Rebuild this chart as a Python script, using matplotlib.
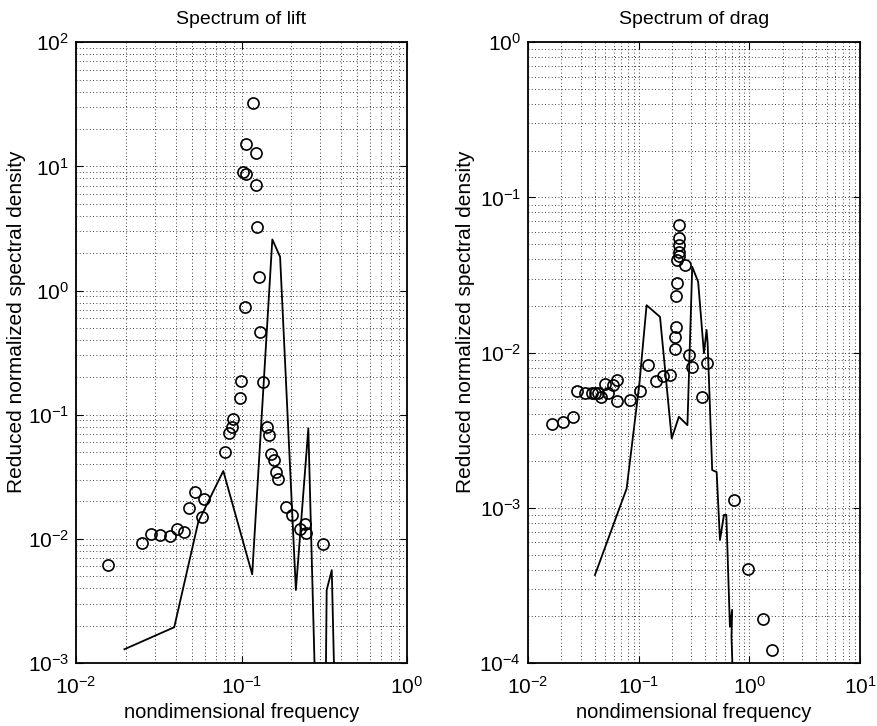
import matplotlib
matplotlib.use("Agg")
from matplotlib import pyplot as plt
from matplotlib.ticker import LogLocator, NullFormatter

plt.rcParams['font.family'] = ['Liberation Sans', 'DejaVu Sans']

# lift spectrum: measured points (circles)
lift_f = [0.0156, 0.0249, 0.0283, 0.0322, 0.0370, 0.0409, 0.0450, 0.0484, 0.0524,
          0.0574, 0.0594, 0.0794, 0.0844, 0.0873, 0.0893, 0.098, 0.0993, 0.1025,
          0.105, 0.107, 0.107, 0.117, 0.122, 0.1223, 0.1236, 0.1276, 0.1294, 0.134,
          0.143, 0.147, 0.150, 0.157, 0.162, 0.165, 0.185, 0.201, 0.226, 0.242,
          0.245, 0.309]
lift_s = [0.0062, 0.0092, 0.0109, 0.0107, 0.0105, 0.0119, 0.0113, 0.0178, 0.0238,
          0.0150, 0.0209, 0.0503, 0.0715, 0.080, 0.093, 0.137, 0.187, 9.03,
          0.74, 8.66, 15.1, 32.7, 12.9, 7.06, 3.26, 1.29, 0.46, 0.184,
          0.080, 0.0685, 0.0482, 0.0431, 0.0347, 0.0301, 0.0181, 0.0157, 0.0121, 0.0132,
          0.0111, 0.0091]

# lift spectrum: computed curve
lift_line_f = [0.0196, 0.0392, 0.0548, 0.0776, 0.116, 0.1535, 0.171, 0.213,
               0.2533, 0.285, 0.32, 0.327, 0.351, 0.372]
lift_line_s = [0.00129, 0.00194, 0.0137, 0.0352, 0.00518, 2.58, 1.87, 0.00387,
               0.0776, 0.0002, 0.0002, 0.00387, 0.0056, 0.0002]

# drag spectrum: measured points (circles)
drag_f = [0.0164, 0.0208, 0.0254, 0.0279, 0.0327, 0.0376, 0.0403, 0.0432, 0.0454,
          0.0497, 0.0531, 0.059, 0.0633, 0.0633, 0.0834, 0.1027, 0.122, 0.143,
          0.165, 0.192, 0.214, 0.214, 0.216, 0.217, 0.220, 0.224, 0.230, 0.233,
          0.233, 0.233, 0.233, 0.262, 0.286, 0.304, 0.371, 0.411, 0.726, 0.978,
          1.32, 1.62]
drag_s = [0.00346, 0.00358, 0.00383, 0.00568, 0.00546, 0.0055, 0.0055, 0.0055, 0.00515,
          0.00627, 0.0055, 0.00617, 0.00665, 0.0049, 0.00494, 0.00568, 0.0083, 0.00658,
          0.0071, 0.00716, 0.0126, 0.01054, 0.0147, 0.0231, 0.0283, 0.0398, 0.0420, 0.0446,
          0.0492, 0.0544, 0.0663, 0.0366, 0.00964, 0.0081, 0.00519, 0.0086, 0.00113, 0.000403,
          0.000192, 0.000121]

# drag spectrum: computed curve
drag_line_f = [0.0403, 0.0779, 0.1017, 0.118, 0.156, 0.199, 0.231, 0.276, 0.305,
               0.345, 0.389, 0.411, 0.42, 0.462, 0.507, 0.543, 0.59, 0.62, 0.668,
               0.7, 0.69, 0.726]
drag_line_s = [0.000369, 0.00133, 0.00636, 0.0202, 0.017, 0.0028, 0.00386, 0.00341, 0.0357,
               0.0286, 0.0099, 0.014, 0.0116, 0.00175, 0.0017, 0.00062, 0.0009, 0.0009, 0.000171,
               0.00022, 0.000148, 0.00005]


def style_axes(ax, label_x):
    ax.set_xscale('log')
    ax.set_yscale('log')
    ax.grid(True, which='both', linestyle=(0, (1, 3)), color='black', linewidth=0.6)
    ax.tick_params(which='both', direction='in', top=True, right=True, labelsize=15)
    ax.tick_params(which='major', length=5)
    ax.tick_params(which='minor', length=0)
    ax.tick_params(axis='x', which='major', pad=9)
    ax.tick_params(axis='y', which='major', pad=5)
    ax.xaxis.set_minor_locator(LogLocator(base=10, subs=range(2, 10)))
    ax.yaxis.set_minor_locator(LogLocator(base=10, subs=range(2, 10)))
    ax.xaxis.set_minor_formatter(NullFormatter())
    ax.yaxis.set_minor_formatter(NullFormatter())
    for sp in ax.spines.values():
        sp.set_linewidth(1.3)
    ax.set_xlabel('nondimensional frequency', fontsize=14.5)
    ax.set_ylabel('Reduced normalized spectral density', fontsize=15)
    ax.yaxis.set_label_coords(label_x, 0.55)


fig = plt.figure(figsize=(8.77, 7.26), dpi=100)
ax1 = fig.add_axes([0.0867, 0.0868, 0.3774, 0.855])
ax2 = fig.add_axes([0.602, 0.0868, 0.3786, 0.855])

ax1.plot(lift_line_f, lift_line_s, color='black', linewidth=1.3)
ax1.plot(lift_f, lift_s, 'o', markerfacecolor='none', markeredgecolor='black',
         markersize=8, markeredgewidth=1.2)
style_axes(ax1, -0.15)
ax1.set_xlim(1e-2, 1e0)
ax1.set_ylim(1e-3, 1e2)
ax1.set_title('Spectrum of lift', fontsize=14, pad=13)

ax2.plot(drag_line_f, drag_line_s, color='black', linewidth=1.3)
ax2.plot(drag_f, drag_s, 'o', markerfacecolor='none', markeredgecolor='black',
         markersize=8, markeredgewidth=1.2)
style_axes(ax2, -0.16)
ax2.set_xlim(1e-2, 1e1)
ax2.set_ylim(1e-4, 1e0)
ax2.set_title('Spectrum of drag', fontsize=14, pad=13)

fig.savefig('out.png', dpi=100)
